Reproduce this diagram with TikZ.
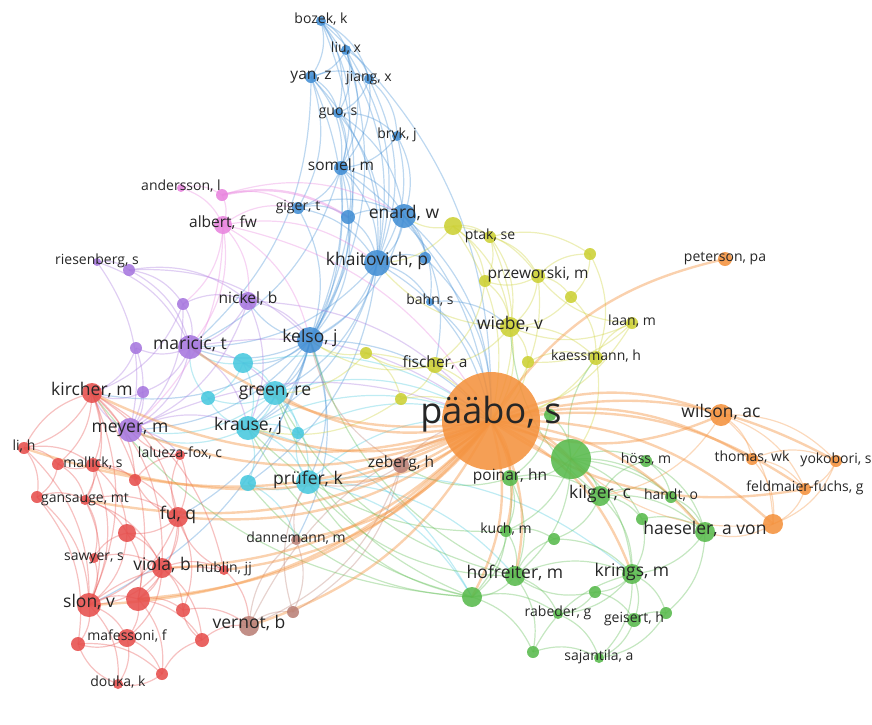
\documentclass[tikz,border=0pt]{standalone}
\usepackage{fontspec}
\setmainfont{Open Sans}
\usetikzlibrary{backgrounds}

\definecolor{vblue}{RGB}{66,142,212}
\definecolor{vcyan}{RGB}{72,200,222}
\definecolor{vpurple}{RGB}{166,118,222}
\definecolor{vpink}{RGB}{232,132,222}
\definecolor{vred}{RGB}{230,78,76}
\definecolor{vbrown}{RGB}{186,128,118}
\definecolor{vyellow}{RGB}{204,208,52}
\definecolor{vorange}{RGB}{244,146,62}
\definecolor{vgreen}{RGB}{88,186,76}

\begin{document}
\begin{tikzpicture}[x=1pt,y=-1pt,
  ball/.style={circle,inner sep=0pt,minimum size=#1*2pt,fill opacity=0.88},
  link/.style={draw opacity=0.35,line width=1.2pt,bend left=24},
  heavy/.style={draw opacity=0.42,line width=2.4pt,bend left=22},
  txt/.style={text=black!85,inner sep=0pt,text height=.72em,text depth=.22em},
  lxl/.style={txt,font=\fontsize{36}{36}\selectfont},
  lbig/.style={txt,font=\fontsize{17.5}{17.5}\selectfont},
  lmid/.style={txt,font=\fontsize{15.5}{15.5}\selectfont},
  lsm/.style={txt,font=\fontsize{14}{14}\selectfont}]

\useasboundingbox (0,0) rectangle (872,724);

% clusters
\foreach \n/\x/\y/\r in {bozek/321/21/5, liu/346/50/5, yan/311/77/6, jiang/369/79/5,
  guo/338/113/5, bryk/397/136/5, somel/341/168/7, giger/298/208/6, bA/348/217/7,
  enard/404/216/12, khaitovich/377/263/13, bB/425/258/6, bahn/430/302/4, kelso/310/340/13}
  \node[ball=\r,fill=vblue] (\n) at (\x,\y) {};
\foreach \n/\x/\y/\r in {cA/243/363/10, green/275/393/12, cB/208/398/7, krause/248/428/12,
  cC/298/433/6, cD/248/483/8, prufer/308/482/12}
  \node[ball=\r,fill=vcyan] (\n) at (\x,\y) {};
\foreach \n/\x/\y/\r in {riesenberg/97/262/4, pA/129/270/6, pB/183/304/6, nickel/248/301/9,
  maricic/190/347/12, pC/136/348/6, pD/143/392/6, meyer/130/430/12}
  \node[ball=\r,fill=vpurple] (\n) at (\x,\y) {};
\foreach \n/\x/\y/\r in {andersson/181/188/4, kA/222/195/6, albert/223/225/9}
  \node[ball=\r,fill=vpink] (\n) at (\x,\y) {};
\foreach \n/\x/\y/\r in {kircher/92/393/10, lih/24/448/6, rA/58/464/6, mallick/93/465/7,
  lalueza/180/455/5, rB/135/480/6, rC/37/497/6, gansauge/85/500/5, fu/178/517/10,
  rD/127/533/9, sawyer/94/558/5, viola/162/568/10, hublin/224/570/5, slon/89/605/12,
  rE/138/599/12, rF/183/610/7, mafessoni/127/638/9, rG/78/644/7, rH/202/640/7,
  rI/162/674/6, douka/118/684/5}
  \node[ball=\r,fill=vred] (\n) at (\x,\y) {};
\foreach \n/\x/\y/\r in {zeberg/401/465/8, dannemann/296/540/5, vernot/249/626/10, wA/293/612/6}
  \node[ball=\r,fill=vbrown] (\n) at (\x,\y) {};
\foreach \n/\x/\y/\r in {yA/453/226/9, ptak/490/237/6, yB/590/254/6, yC/485/281/6,
  przeworski/538/276/7, yD/571/297/6, wiebe/510/327/10, laan/632/323/6, yE/366/353/6,
  kaessmann/596/358/7, yF/528/362/6, fischer/435/365/8, yG/401/399/6}
  \node[ball=\r,fill=vyellow] (\n) at (\x,\y) {};
\foreach \n/\x/\y/\r in {gA/571/459/20, gB/550/415/6, poinar/510/478/8, hoss/646/461/6,
  kilger/600/496/10, handt/671/497/6, gC/642/519/6, haeseler/705/532/10, kuch/506/531/6,
  gD/554/539/6, hofreiter/515/576/10, gE/472/597/10, krings/632/574/10, gF/595/592/6,
  rabeder/558/614/5, gG/666/613/6, geisert/634/620/7, gH/533/652/6, sajantila/599/658/5}
  \node[ball=\r,fill=vgreen] (\n) at (\x,\y) {};
\foreach \n/\x/\y/\r in {paabo/491/421/49, peterson/725/259/7, wilson/721/415/11,
  thomas/752/459/6, yokobori/836/461/6, feldmaier/805/489/6, oA/773/524/10}
  \node[ball=\r,fill=vorange] (\n) at (\x,\y) {};

% links
\begin{pgfonlayer}{background}
\foreach \a/\b in {bozek/liu, bozek/yan, bozek/jiang, bozek/guo, bozek/somel, bozek/khaitovich,
  liu/yan, liu/jiang, liu/guo, liu/somel, liu/khaitovich, yan/jiang, yan/guo, yan/somel,
  yan/khaitovich, yan/giger, jiang/guo, jiang/somel, jiang/khaitovich, jiang/bryk, guo/somel,
  guo/khaitovich, guo/bryk, guo/enard, bryk/somel, bryk/khaitovich, bryk/enard, somel/giger,
  somel/bA, somel/enard, somel/khaitovich, somel/kelso, giger/bA, giger/khaitovich, giger/enard,
  giger/kelso, bA/enard, bA/khaitovich, bA/kelso, enard/khaitovich, enard/bB, enard/bahn,
  enard/kelso, khaitovich/bB, khaitovich/bahn, khaitovich/kelso, khaitovich/krause,
  khaitovich/green, kelso/green, kelso/krause, kelso/prufer, kelso/cA, kelso/maricic,
  kelso/nickel, kelso/meyer, kelso/kircher, kelso/fu, kelso/slon, yan/kelso, somel/maricic,
  khaitovich/maricic, enard/fischer, bahn/wiebe, khaitovich/cD, kelso/dannemann, liu/kelso,
  bozek/kelso, khaitovich/paabo, enard/paabo, kelso/paabo, bB/paabo, bahn/paabo, somel/paabo,
  bozek/paabo, yan/maricic, guo/kelso, somel/krause}
  \draw[link,vblue] (\a.center) to (\b.center);
\foreach \a/\b in {cA/green, cA/krause, cA/cB, cA/maricic, green/krause, green/cB, green/cC,
  green/prufer, krause/cB, krause/cC, krause/cD, krause/prufer, prufer/cD, prufer/cC,
  cD/dannemann, krause/meyer, green/meyer, cB/maricic, prufer/hofreiter, prufer/gE, krause/gE,
  green/paabo, krause/paabo, prufer/paabo, cC/paabo, cA/paabo, prufer/krings}
  \draw[link,vcyan] (\a.center) to (\b.center);
\foreach \a/\b in {riesenberg/pA, riesenberg/maricic, pA/maricic, pA/nickel, pA/pB, pB/maricic,
  pB/nickel, nickel/maricic, maricic/pC, maricic/pD, maricic/meyer, pC/meyer, pD/meyer,
  pC/kircher, pD/kircher, nickel/meyer, pB/meyer, meyer/kircher, meyer/krause, meyer/lalueza,
  maricic/green, maricic/krause, nickel/krause, nickel/kelso, pA/kelso, pB/kircher,
  riesenberg/meyer, maricic/paabo, meyer/paabo, nickel/paabo}
  \draw[link,vpurple] (\a.center) to (\b.center);
\foreach \a/\b in {andersson/kA, andersson/albert, kA/albert, kA/giger, albert/giger,
  albert/nickel, albert/maricic, albert/pB, albert/kelso, albert/meyer, kA/enard,
  albert/paabo, albert/khaitovich}
  \draw[link,vpink] (\a.center) to (\b.center);
\draw[heavy,vpink] (kA.center) to (bA.center);
\foreach \a/\b in {kircher/lih, kircher/mallick, kircher/rA, kircher/gansauge, kircher/fu,
  kircher/slon, kircher/viola, kircher/rE, kircher/rB, lih/mallick, lih/rA, lih/rC, lih/slon,
  mallick/rA, mallick/gansauge, mallick/rB, mallick/slon, mallick/fu, mallick/rD, rA/rC,
  rA/gansauge, rC/gansauge, rC/slon, gansauge/slon, gansauge/fu, gansauge/rD, gansauge/viola,
  gansauge/sawyer, fu/rD, fu/viola, fu/slon, fu/rE, fu/lalueza, fu/rB, fu/rF, rD/viola,
  rD/slon, rD/rE, sawyer/slon, sawyer/viola, sawyer/rD, viola/slon, viola/rE, viola/rF,
  viola/hublin, viola/mafessoni, viola/rH, slon/rE, slon/mafessoni, slon/rG, slon/douka,
  rE/rF, rE/mafessoni, rE/rH, rE/rI, mafessoni/rG, mafessoni/douka, mafessoni/rI, rI/rH,
  rI/douka, rH/rF, rF/vernot, douka/rG, rH/vernot, lalueza/meyer, lalueza/fu, hublin/vernot,
  hublin/fu, rB/lalueza, rG/rI, kircher/hublin, slon/hublin, lih/kircher, rC/rG}
  \draw[link,vred] (\a.center) to (\b.center);
\foreach \a/\b in {zeberg/vernot, zeberg/prufer, zeberg/wA, vernot/wA, vernot/dannemann,
  dannemann/wA, wA/prufer, zeberg/kelso, dannemann/prufer, zeberg/paabo, vernot/paabo}
  \draw[link,vbrown] (\a.center) to (\b.center);
\foreach \a/\b in {yA/ptak, yA/enard, yA/khaitovich, yA/wiebe, yA/przeworski, yA/yC,
  ptak/przeworski, ptak/wiebe, ptak/yB, ptak/yC, przeworski/yB, przeworski/yD, przeworski/yC,
  przeworski/wiebe, yC/wiebe, yD/wiebe, yB/kaessmann, yD/kaessmann, yB/yD, wiebe/fischer,
  wiebe/yF, wiebe/kaessmann, fischer/yE, fischer/yG, fischer/kelso, yE/kelso, kaessmann/laan,
  laan/yF, laan/przeworski, laan/wiebe, wiebe/khaitovich, yE/yG, yF/kaessmann, yC/fischer,
  kaessmann/gA, yE/green, yG/krause, wiebe/paabo, fischer/paabo, yG/paabo, kaessmann/paabo,
  yF/paabo, yE/paabo, yA/paabo, przeworski/paabo, ptak/paabo, laan/paabo}
  \draw[link,vyellow] (\a.center) to (\b.center);
\foreach \a/\b in {gA/kilger, gA/hoss, gA/handt, gA/haeseler, gA/krings, gA/hofreiter,
  gA/poinar, gA/kuch, gA/gC, gB/gA, gB/poinar, poinar/kuch, poinar/hofreiter, poinar/gE,
  poinar/kilger, kilger/hoss, kilger/handt, kilger/haeseler, kilger/krings, kilger/gC,
  kilger/gD, hoss/handt, hoss/haeseler, handt/haeseler, gC/haeseler, gC/krings,
  haeseler/krings, haeseler/gG, kuch/hofreiter, kuch/gE, kuch/gD, hofreiter/gE,
  hofreiter/krings, hofreiter/rabeder, hofreiter/gH, hofreiter/gD, gE/rabeder, gE/gH,
  gE/prufer, gE/krause, gE/green, krings/gF, krings/geisert, krings/gG, krings/rabeder,
  krings/sajantila, gF/geisert, gF/rabeder, geisert/gG, geisert/sajantila, rabeder/sajantila,
  gH/sajantila, gH/krings, gG/sajantila, gD/krings, gF/hofreiter, hofreiter/prufer,
  kuch/krause, poinar/zeberg, gE/cD, hofreiter/kelso, gA/kaessmann, kilger/wiebe,
  gE/kircher, hofreiter/green}
  \draw[link,vgreen] (\a.center) to (\b.center);
\foreach \a/\b in {wilson/thomas, wilson/yokobori, wilson/feldmaier, wilson/oA, thomas/oA,
  yokobori/oA, feldmaier/oA, thomas/feldmaier, yokobori/feldmaier, thomas/yokobori,
  oA/haeseler, wilson/kilger, oA/gA}
  \draw[link,vorange] (\a.center) to (\b.center);
\foreach \b in {wilson, thomas, yokobori, feldmaier, oA, peterson, kircher, mallick, lih,
  slon, fu, krause, green, maricic, meyer, prufer, viola, rE, gansauge, hublin, vernot,
  dannemann, hofreiter, krings, kilger, haeseler, poinar, kuch, gA, gE}
  \draw[heavy,vorange] (paabo.center) to (\b.center);
\draw[heavy,vorange] (wilson.center) to (paabo.center);
\draw[heavy,vorange] (feldmaier.center) to (paabo.center);
\end{pgfonlayer}

% labels
\node[lsm] (t-bozek) at (bozek) {bozek, k};
\node[lsm] (t-liu) at (liu) {liu, x};
\node[lmid] (t-yan) at (yan) {yan, z};
\node[lsm] (t-jiang) at (jiang) {jiang, x};
\node[lsm] (t-guo) at (guo) {guo, s};
\node[lsm] (t-bryk) at (bryk) {bryk, j};
\node[lmid] (t-somel) at (somel) {somel, m};
\node[lsm] (t-giger) at (giger) {giger, t};
\node[lbig] (t-enard) at (enard) {enard, w};
\node[lbig] (t-khaitovich) at (khaitovich) {khaitovich, p};
\node[lsm] (t-bahn) at (bahn) {bahn, s};
\node[lbig] (t-kelso) at (kelso) {kelso, j};
\node[lbig] (t-green) at (green) {green, re};
\node[lbig] (t-krause) at (krause) {krause, j};
\node[lbig] (t-prufer) at (prufer) {prüfer, k};
\node[lsm] (t-riesenberg) at (riesenberg) {riesenberg, s};
\node[lmid] (t-nickel) at (nickel) {nickel, b};
\node[lbig] (t-maricic) at (maricic) {maricic, t};
\node[lbig] (t-meyer) at (meyer) {meyer, m};
\node[lsm] (t-andersson) at (andersson) {andersson, l};
\node[lmid] (t-albert) at (albert) {albert, fw};
\node[lbig] (t-kircher) at (kircher) {kircher, m};
\node[lsm] (t-lih) at (lih) {li, h};
\node[lsm] (t-mallick) at (mallick) {mallick, s};
\node[lsm] (t-lalueza) at (lalueza) {lalueza-fox, c};
\node[lsm] (t-gansauge) at (gansauge) {gansauge, mt};
\node[lbig] (t-fu) at (fu) {fu, q};
\node[lsm] (t-sawyer) at (sawyer) {sawyer, s};
\node[lbig] (t-viola) at (viola) {viola, b};
\node[lsm] (t-hublin) at (hublin) {hublin, jj};
\node[lbig] (t-slon) at (slon) {slon, v};
\node[lsm] (t-mafessoni) at (mafessoni) {mafessoni, f};
\node[lsm] (t-douka) at (douka) {douka, k};
\node[lmid] (t-zeberg) at (zeberg) {zeberg, h};
\node[lsm] (t-dannemann) at (dannemann) {dannemann, m};
\node[lbig] (t-vernot) at (vernot) {vernot, b};
\node[lsm] (t-ptak) at (ptak) {ptak, se};
\node[lmid] (t-przeworski) at (przeworski) {przeworski, m};
\node[lbig] (t-wiebe) at (wiebe) {wiebe, v};
\node[lsm] (t-laan) at (laan) {laan, m};
\node[lsm] (t-kaessmann) at (kaessmann) {kaessmann, h};
\node[lmid] (t-fischer) at (fischer) {fischer, a};
\node[lxl] (t-paabo) at (paabo) {pääbo, s};
\node[lsm] (t-peterson) at (peterson) {peterson, pa};
\node[lbig] (t-wilson) at (wilson) {wilson, ac};
\node[lsm] (t-thomas) at (thomas) {thomas, wk};
\node[lsm] (t-yokobori) at (yokobori) {yokobori, s};
\node[lsm] (t-feldmaier) at (feldmaier) {feldmaier-fuchs, g};
\node[lmid] (t-poinar) at (poinar) {poinar, hn};
\node[lsm] (t-hoss) at (hoss) {höss, m};
\node[lbig] (t-kilger) at (kilger) {kilger, c};
\node[lsm] (t-handt) at (handt) {handt, o};
\node[lbig] (t-haeseler) at (haeseler) {haeseler, a von};
\node[lsm] (t-kuch) at (kuch) {kuch, m};
\node[lbig] (t-hofreiter) at (hofreiter) {hofreiter, m};
\node[lbig] (t-krings) at (krings) {krings, m};
\node[lsm] (t-rabeder) at (rabeder) {rabeder, g};
\node[lsm] (t-geisert) at (geisert) {geisert, h};
\node[lsm] (t-sajantila) at (sajantila) {sajantila, a};

\end{tikzpicture}
\end{document}
